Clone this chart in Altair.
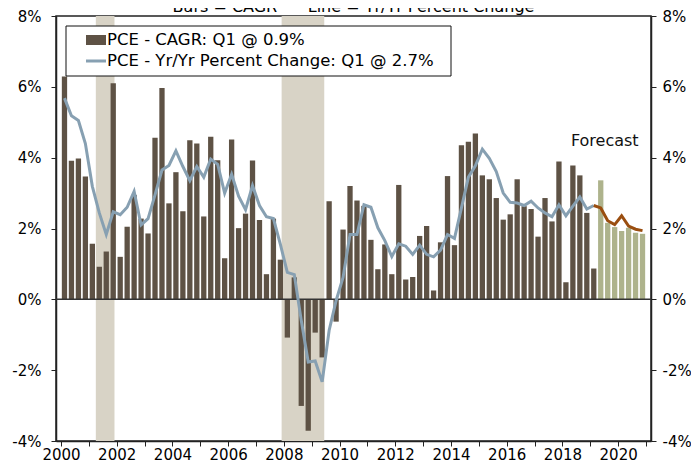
import altair as alt
import pandas as pd

# ---------------- data ----------------
cagr_hist = [
    6.29, 3.91, 3.98, 3.47,   # 2000
    1.57, 0.92, 1.35, 6.10,   # 2001
    1.20, 2.05, 2.95, 2.28,   # 2002
    1.86, 4.56, 5.97, 2.71,   # 2003
    3.59, 2.49, 4.49, 4.40,   # 2004
    2.34, 4.59, 3.93, 1.16,   # 2005
    4.51, 2.01, 2.42, 3.92,   # 2006
    2.24, 0.71, 2.28, 1.12,   # 2007
    -1.08, 0.62, -3.01, -3.71,  # 2008
    -0.94, -1.64, 2.77, -0.63,  # 2009
    1.97, 3.20, 2.79, 2.64,   # 2010
    1.68, 0.85, 1.55, 0.71,   # 2011
    3.23, 0.56, 0.63, 1.79,   # 2012
    2.07, 0.25, 1.61, 3.48,   # 2013
    1.53, 4.35, 4.45, 4.68,   # 2014
    3.50, 3.39, 2.86, 2.25,   # 2015
    2.40, 3.39, 2.63, 2.55,   # 2016
    1.77, 2.86, 2.20, 3.89,   # 2017
    0.48, 3.78, 3.50, 2.44,   # 2018
    0.87,                     # 2019Q1
]
cagr_fcst = [3.36, 2.16, 2.04, 1.93, 2.02, 1.88, 1.85]  # 2019Q2 - 2020Q4

yoy_hist = [
    5.68, 5.18, 5.05, 4.40,
    3.19, 2.44, 1.83, 2.47,
    2.39, 2.60, 3.05, 2.10,
    2.28, 2.95, 3.65, 3.78,
    4.19, 3.75, 3.35, 3.75,
    3.45, 3.96, 3.81, 3.00,
    3.53, 2.91, 2.53, 3.21,
    2.65, 2.33, 2.28, 1.55,
    0.76, 0.70, -0.60, -1.77,
    -1.74, -2.33, -0.88, -0.04,
    0.62, 1.83, 1.83, 2.67,
    2.60, 2.02, 1.66, 1.21,
    1.57, 1.50, 1.27, 1.53,
    1.27, 1.20, 1.39, 1.83,
    1.72, 2.58, 3.45, 3.77,
    4.24, 3.98, 3.61, 3.00,
    2.74, 2.72, 2.65, 2.77,
    2.58, 2.44, 2.33, 2.67,
    2.36, 2.63, 2.89, 2.55,
    2.65,
]
yoy_fcst = [2.65, 2.58, 2.22, 2.11, 2.36, 2.07, 1.98, 1.94]  # 2019Q1 - 2020Q4

recession_start = [2001.25, 2007.92]
recession_end = [2001.92, 2009.45]

y_ticks = [-4, -2, 0, 2, 4, 6, 8]
x_ticks = list(range(2000, 2022))

legend_labels = ["PCE - CAGR: Q1 @ 0.9%", "PCE - Yr/Yr Percent Change: Q1 @ 2.7%"]
title_text = "Bars = CAGR\u00a0\u00a0\u00a0\u00a0\u00a0\u00a0Line = Yr/Yr Percent Change"

# ---------------- styles ----------------
BROWN = "#5e5245"
GREEN = "#aeb38c"
REC = "#d8d3c6"
BLUE = "#87a0b2"
ORANGE = "#9a4e10"
FONT = "DejaVu Sans"
FS = 15
W, H = 595, 425

def qpos(start_index, n):
    return [2000 + (start_index + i) / 4 + 0.125 for i in range(n)]

n_hist = len(cagr_hist)
bars_df = pd.DataFrame({
    "t": qpos(0, n_hist) + qpos(n_hist, len(cagr_fcst)),
    "v": cagr_hist + cagr_fcst,
    "kind": ["hist"] * n_hist + ["fcst"] * len(cagr_fcst),
})
line_hist_df = pd.DataFrame({"t": qpos(0, len(yoy_hist)), "v": yoy_hist})
line_fcst_df = pd.DataFrame({"t": qpos(n_hist - 1, len(yoy_fcst)), "v": yoy_fcst})
rec_df = pd.DataFrame({"s": recession_start, "e": recession_end})

x_scale = alt.Scale(domain=[2000, 2021], nice=False, zero=False)
y_scale = alt.Scale(domain=[-4, 8], nice=False)

x_axis = alt.Axis(
    values=x_ticks, labelExpr="datum.value % 2 == 0 ? datum.value : ''",
    grid=False, title=None, tickSize=5, labelPadding=1, labelFont=FONT,
    labelFontSize=FS, labelColor="#000", domainColor="#222", tickColor="#222",
    labelOverlap=False, labelFlush=False, domainWidth=1.5,
)
def y_axis(orient, pad):
    return alt.Axis(
        values=y_ticks, labelExpr="datum.value + '%'", grid=False, title=None,
        orient=orient, tickSize=5, labelPadding=pad, labelFont=FONT, labelFontSize=FS,
        labelColor="#000", domainColor="#222", tickColor="#222", domainWidth=1.5,
        labelFlush=False,
    )

rec = alt.Chart(rec_df).mark_rect(color=REC).encode(
    x=alt.X("s:Q", scale=x_scale, axis=x_axis),
    x2="e:Q",
    y=alt.value(0),
    y2=alt.value(H),
)

bars = alt.Chart(bars_df).mark_bar(width=5.3).encode(
    x=alt.X("t:Q", scale=x_scale, axis=x_axis),
    y=alt.Y("v:Q", scale=y_scale, axis=y_axis("left", 10)),
    color=alt.Color("kind:N", scale=alt.Scale(domain=["hist", "fcst"], range=[BROWN, GREEN]), legend=None),
)

zero = alt.Chart(pd.DataFrame({"z": [0]})).mark_rule(color="#333", strokeWidth=1.5).encode(
    y=alt.Y("z:Q", scale=y_scale, axis=y_axis("right", 6)),
)

line_h = alt.Chart(line_hist_df).mark_line(color=BLUE, strokeWidth=3).encode(
    x=alt.X("t:Q", scale=x_scale, axis=x_axis),
    y=alt.Y("v:Q", scale=y_scale, axis=None),
)
line_f = alt.Chart(line_fcst_df).mark_line(color=ORANGE, strokeWidth=3).encode(
    x=alt.X("t:Q", scale=x_scale, axis=x_axis),
    y=alt.Y("v:Q", scale=y_scale, axis=None),
)

forecast_txt = alt.Chart(pd.DataFrame({"t": [2019.52], "v": [4.46], "s": ["Forecast"]})).mark_text(
    font=FONT, fontSize=16, color="#111", align="center", baseline="middle"
).encode(
    x=alt.X("t:Q", scale=x_scale, axis=x_axis),
    y=alt.Y("v:Q", scale=y_scale, axis=None),
    text="s:N",
)

one = pd.DataFrame({"a": [0]})
leg_box = alt.Chart(one).mark_rect(fill="white", stroke="#111", strokeWidth=1).encode(
    x=alt.value(10), x2=alt.value(395), y=alt.value(10), y2=alt.value(60)
)
leg_sw = alt.Chart(one).mark_rect(fill=BROWN).encode(
    x=alt.value(30), x2=alt.value(50), y=alt.value(19), y2=alt.value(29)
)
leg_ln = alt.Chart(one).mark_rule(color=BLUE, strokeWidth=3).encode(
    x=alt.value(30), x2=alt.value(50), y=alt.value(45)
)
leg_t1 = alt.Chart(one).mark_text(font=FONT, fontSize=16.5, align="left", baseline="middle", color="#000").encode(
    x=alt.value(51), y=alt.value(24), text=alt.value(legend_labels[0])
)
leg_t2 = alt.Chart(one).mark_text(font=FONT, fontSize=16.5, align="left", baseline="middle", color="#000").encode(
    x=alt.value(51), y=alt.value(45), text=alt.value(legend_labels[1])
)
title = alt.Chart(one).mark_text(font=FONT, fontSize=16, align="center", baseline="alphabetic", color="#000").encode(
    x=alt.value(W / 2), y=alt.value(-4), text=alt.value(title_text)
)

chart = alt.layer(
    rec, bars, zero, line_h, line_f, forecast_txt,
    leg_box, leg_sw, leg_ln, leg_t1, leg_t2, title,
).resolve_scale(y="independent").properties(
    width=W, height=H,
    autosize=alt.AutoSizeParams(type="none"),
    padding={"left": 48, "top": 8, "right": 40, "bottom": 22},
).configure_view(stroke="#222", strokeWidth=1.5)

chart.save("out.html", embed_options={"renderer": "svg", "actions": False})
